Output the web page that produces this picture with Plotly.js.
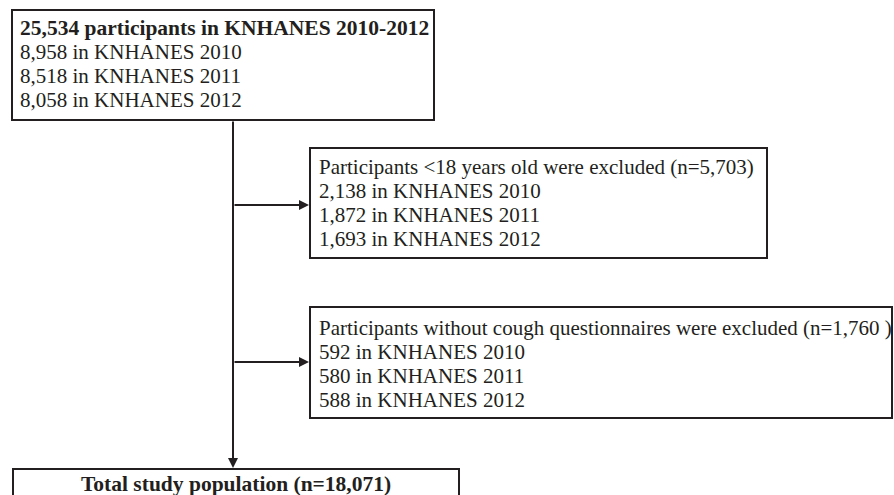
<!DOCTYPE html>
<html>
<head>
<meta charset="utf-8">
<script src="https://cdn.plot.ly/plotly-3.0.1.min.js"></script>
<style>html,body{margin:0;padding:0;background:#fff;}#chart{width:894px;height:495px;}</style>
</head>
<body>
<div id="chart"></div>
<script>
// ---- data ----
const survey = 'KNHANES';
const years = ['2010', '2011', '2012'];
const enrolledTotal = 25534;
const enrolledByYear = [8958, 8518, 8058];
const under18Total = 5703;
const under18ByYear = [2138, 1872, 1693];
const noCoughTotal = 1760;
const noCoughByYear = [592, 580, 588];
const finalTotal = 18071;

const fmt = n => n.toLocaleString('en-US');

// ---- layout constants (pixels) ----
const W = 894, H = 495;
const ink = '#231f20';
const FONT = 'Liberation Serif, Times New Roman, serif';
const FS = 21;
const FSB = 21.5;
const LINE = 24;

const boxes = [
  {x0: 12, x1: 434, y0: 10, y1: 120, tx: 18, ty: 28,
   head: '<b>' + fmt(enrolledTotal) + ' participants in ' + survey + ' ' + years[0] + '-' + years[years.length-1] + '</b>',
   bold: true,
   lines: enrolledByYear.map((v, i) => fmt(v) + ' in ' + survey + ' ' + years[i])},
  {x0: 310, x1: 767, y0: 148, y1: 258, tx: 317, ty: 167,
   head: 'Participants &lt;18 years old were excluded (n=' + fmt(under18Total) + ')',
   lines: under18ByYear.map((v, i) => fmt(v) + ' in ' + survey + ' ' + years[i])},
  {x0: 310, x1: 892, y0: 307, y1: 418, tx: 317, ty: 328,
   head: 'Participants without cough questionnaires were excluded (n=' + fmt(noCoughTotal) + ' )',
   lines: noCoughByYear.map((v, i) => fmt(v) + ' in ' + survey + ' ' + years[i])}
];

const shapes = [];
const annotations = [];
boxes.forEach(b => {
  shapes.push({type: 'rect', xref: 'x', yref: 'y', x0: b.x0, x1: b.x1, y0: b.y0, y1: b.y1,
    line: {color: ink, width: 2}, fillcolor: 'rgba(0,0,0,0)'});
  [b.head].concat(b.lines).forEach((t, i) => {
    annotations.push({xref: 'x', yref: 'y', x: b.tx, y: b.ty + i * LINE, text: t,
      showarrow: false, xanchor: 'left', yanchor: 'middle',
      font: {family: FONT, size: (i === 0 && b.bold) ? FSB : FS, color: ink}});
  });
});

// final box
shapes.push({type: 'rect', xref: 'x', yref: 'y', x0: 13, x1: 459, y0: 469, y1: 520,
  line: {color: ink, width: 2}, fillcolor: 'rgba(0,0,0,0)'});
annotations.push({xref: 'x', yref: 'y', x: 236, y: 484,
  text: '<b>Total study population (n=' + fmt(finalTotal) + ')</b>',
  showarrow: false, xanchor: 'center', yanchor: 'middle',
  font: {family: FONT, size: FSB, color: ink}});

// main vertical arrow
const spineX = 233;
annotations.push({xref: 'x', yref: 'y', axref: 'x', ayref: 'y', x: spineX, y: 468, ax: spineX, ay: 120,
  text: '', showarrow: true, arrowhead: 2, arrowsize: 1, arrowwidth: 2, arrowcolor: ink, standoff: 0, startstandoff: 0});
// side arrows
[205, 362].forEach(yy => {
  annotations.push({xref: 'x', yref: 'y', axref: 'x', ayref: 'y', x: 309, y: yy, ax: spineX, ay: yy,
    text: '', showarrow: true, arrowhead: 2, arrowsize: 1, arrowwidth: 2, arrowcolor: ink, standoff: 0, startstandoff: 0});
});

const layout = {
  width: W, height: H,
  margin: {l: 0, r: 0, t: 0, b: 0},
  paper_bgcolor: '#fff', plot_bgcolor: '#fff',
  xaxis: {range: [0, W], visible: false, fixedrange: true},
  yaxis: {range: [H, 0], visible: false, fixedrange: true},
  showlegend: false,
  shapes: shapes,
  annotations: annotations
};

Plotly.newPlot('chart', [{x: [], y: [], type: 'scatter', mode: 'markers'}], layout,
  {staticPlot: true, displayModeBar: false});
</script>
</body>
</html>
